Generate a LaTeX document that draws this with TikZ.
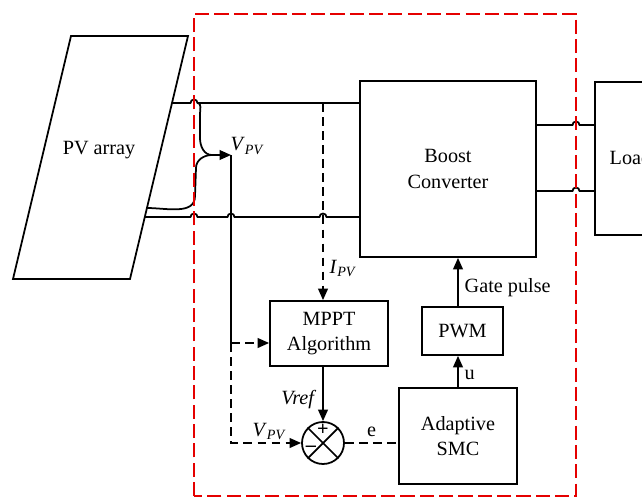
\documentclass[tikz,border=0pt]{standalone}
\usepackage{fontspec}
\setmainfont{Liberation Serif}
\usetikzlibrary{arrows.meta, positioning, calc}
\newcommand{\vpv}{\textit{V}\textsubscript{\textit{PV}}}

\begin{document}
\begin{tikzpicture}[x=0.02cm, y=0.02cm, font=\fontsize{11.5}{14.5}\selectfont,
    line width=1pt,
    >={Triangle[length=6.5pt, width=5.5pt]},
    blk/.style={rectangle, draw=black, line width=1pt, align=center, inner sep=0pt},
    sig/.style={->, line width=1pt},
    dsig/.style={->, line width=1pt, dash pattern=on 5pt off 3pt},
    dline/.style={line width=1pt, dash pattern=on 5pt off 3pt},
    frame/.style={draw=red!90!black, line width=1pt, dash pattern=on 8pt off 3pt}]

    \useasboundingbox (0,0) rectangle (642,498);

    % ---------------- blokovi ----------------
    \draw (13,219) -- (130,219) -- (188,462) -- (71,462) -- cycle;
    \node (pv)    at (99,348)      {PV array};
    \node (boost) [blk, minimum width=176*0.02cm, minimum height=176*0.02cm] at (448,329) {Boost\\Converter};
    \node (load)  [blk, minimum width=66*0.02cm,  minimum height=153*0.02cm, anchor=north west] at (594,417) {};
    \node (loadt) [anchor=west] at (603,340) {Load};
    \node (mppt)  [blk, minimum width=118*0.02cm, minimum height=65*0.02cm] at (329,164.5) {MPPT\\Algorithm};
    \node (pwm)   [blk, minimum width=81*0.02cm,  minimum height=48*0.02cm] at (462.5,167) {PWM};
    \node (smc)   [blk, minimum width=118*0.02cm, minimum height=96*0.02cm] at (458,62) {Adaptive\\SMC};
    \node (sum)   [circle, draw, line width=1pt, minimum size=42*0.02cm, inner sep=0pt] at (323,55) {};
    \draw (sum.north west) -- (sum.south east);
    \draw (sum.north east) -- (sum.south west);
    \node (plus)  at (323,68) {\textbf{+}};
    \node (minus) at (311,49) {\textbf{--}};

    % ---------------- tacke ----------------
    \coordinate (pvT)  at (172,395);
    \coordinate (pvM)  at (147,290);
    \coordinate (pvB)  at (145,281);
    \coordinate (vtap) at (231,343);
    \coordinate (vbr)  at (231,155);
    \coordinate (ipv)  at (323,395);

    % ---------------- vodovi ----------------
    \draw (pvT) -- (190.5,395) arc[start angle=180, end angle=0, radius=0.07cm] -- (pvT -| boost.west);
    \draw (pvB) -- (190.5,281) arc[start angle=180, end angle=0, radius=0.07cm]
                -- (227.5,281) arc[start angle=180, end angle=0, radius=0.07cm]
                -- (319.5,281) arc[start angle=180, end angle=0, radius=0.07cm]
                -- (pvB -| boost.west);
    \draw (197.5,395) to[out=0, in=90] (200,384) -- (200,360) to[out=-90, in=180] (212,343);
    \draw (pvM) to[out=0, in=-90] (195,302) -- (196,330) to[out=90, in=180] (212,343);
    \draw [sig] (212,343) -- (vtap);
    \node (vlab1) [anchor=south west, inner sep=1pt] at (228,341) {\vpv};

    \draw (boost.east |- 0,373) -- (572.5,373) arc[start angle=180, end angle=0, radius=0.07cm] -- (load.west |- 0,373);
    \draw (boost.east |- 0,307) -- (572.5,307) arc[start angle=180, end angle=0, radius=0.07cm] -- (load.west |- 0,307);

    % ---------------- upravljanje ----------------
    \draw [dsig] (ipv) -- node[right, pos=0.84] {\textit{I}\textsubscript{\textit{PV}}} (ipv |- mppt.north);
    \draw (vtap) -- (vbr);
    \draw [dsig] (vbr) -- (vbr -| mppt.west);
    \draw [dsig] (vbr) -- (vbr |- sum) -- node[above, pos=0.55, yshift=-2pt] {\vpv} (sum.west);
    \draw [sig] (mppt.south -| sum) -- node[left, pos=0.6] {\textit{Vref}} (sum.north);
    \draw [dline] (sum.east) -- node[above] {e} (sum.east -| smc.west);
    \draw [sig] (smc.north) -- node[right, pos=0.4] {u} (smc.north |- pwm.south);
    \draw [sig] (smc.north |- pwm.north) -- node[right, pos=0.38] {Gate pulse} (smc.north |- boost.south);

    % ---------------- okvir ----------------
    \draw [frame] (194,2) rectangle (576,484);
\end{tikzpicture}
\end{document}
